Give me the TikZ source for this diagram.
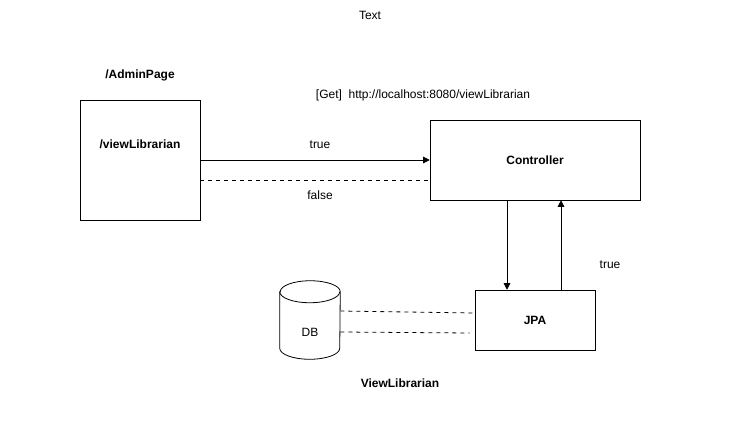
\documentclass[tikz,border=0pt]{standalone}
\usepackage{fontspec}
\setmainfont{Liberation Sans}
\usetikzlibrary{arrows.meta, positioning, calc}
\tikzset{
    % Plain text
    every node/.style={font=\fontsize{9}{11}\selectfont},
    % Bold text
    bold/.style={font=\fontsize{9}{11}\selectfont\bfseries},
    % Box style
    block/.style={
        rectangle,
        draw=black,
        fill=white,
        align=center,
        inner sep=0pt
    },
    % Database frame
    store/.style={
        rectangle,
        minimum width=45pt,
        minimum height=58.5pt,
        inner sep=0pt
    },
    % Database ends
    rim/.style={x radius=22.5pt, y radius=8.25pt},
    % Arrow style
    arrow/.style={
        -{Triangle[length=5pt,width=5pt]},
        semithick,
        color=black
    },
    % Dashed link
    link/.style={
        dashed,
        semithick,
        color=black
    }
}
\begin{document}
\begin{tikzpicture}[x=0.75pt, y=-0.75pt]
    \useasboundingbox (0,0) rectangle (730,440);

    \node (title) at (370,15) {Text};
    \node (page) [bold] at (140,75) {/AdminPage};
    \node (url) at (423,95) {[Get]\ \ http://localhost:8080/viewLibrarian};

    % Boxes
    \node (vl) [block, minimum width=90pt, minimum height=90pt] at (140,160) {};
    \node (vltext) [bold] at ($(vl.north)+(0,45)$) {/viewLibrarian};
    \node (ctrl) [block, minimum width=157.5pt, minimum height=60pt] at (535,160) {\bfseries Controller};
    \node (jpa) [block, minimum width=90pt, minimum height=45pt] at (535,320) {\bfseries JPA};
    \node (view) [bold] at (400,383) {ViewLibrarian};

    % Database
    \node (db) [store] at (310,320) {};
    \draw [semithick, fill=white] ($(db.north west)+(0,11)$) -- ($(db.south west)+(0,-11)$)
        arc [start angle=180, end angle=360, rim] -- ($(db.north east)+(0,11)$)
        arc [start angle=0, end angle=180, rim] -- cycle;
    \draw [semithick] ($(db.north west)+(0,11)$) arc [start angle=180, end angle=360, rim];
    \node (dbtext) at (310,332) {DB};

    % Request and reply
    \draw [arrow] (vl.east) -- (ctrl.west);
    \draw [link] ($(vl.east)+(0,20)$) -- ($(ctrl.west)+(0,20)$);
    \node (yes) at (320,145) {true};
    \node (no) at (320,195) {false};

    % Controller and JPA
    \draw [arrow] ($(ctrl.south)+(-28,0)$) -- ($(jpa.north)+(-28,0)$);
    \draw [arrow] ($(jpa.north)+(26,0)$) -- ($(ctrl.south)+(26,0)$);
    \node (back) at (610,265) {true};

    % JPA and DB
    \draw [link] ($(db.east)+(0,-9)$) -- ($(jpa.west)+(0,-7)$);
    \draw [link] ($(db.east)+(0,12)$) -- ($(jpa.west)+(-5,13)$);
\end{tikzpicture}
\end{document}
